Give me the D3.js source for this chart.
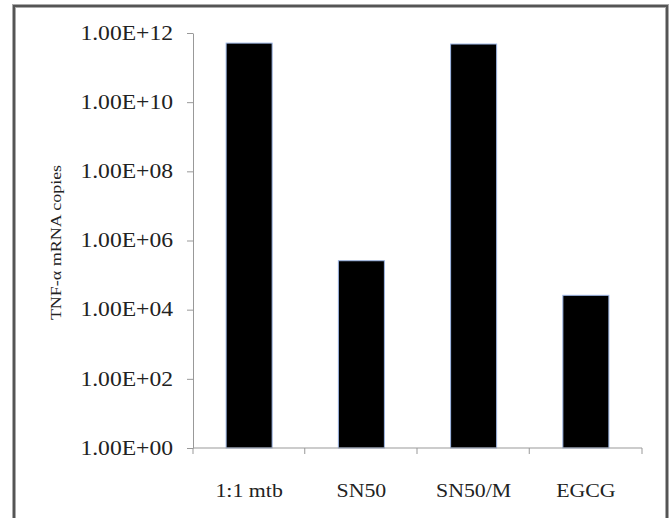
<!DOCTYPE html>
<html>
<head>
<meta charset="utf-8">
<script src="https://cdn.jsdelivr.net/npm/d3@7"></script>
<style>
  html, body { margin: 0; padding: 0; background: #fff; }
  svg { display: block; }
  text { font-family: "Liberation Serif", "Times New Roman", serif; fill: #222; }
</style>
</head>
<body>
<svg id="chart" width="670" height="518"></svg>
<script>
// data
const categories = ["1:1 mtb", "SN50", "SN50/M", "EGCG"];
const copies     = [5.1e11, 2.6e5, 4.8e11, 2.6e4];
const tickValues = [1e0, 1e2, 1e4, 1e6, 1e8, 1e10, 1e12];
const yTitle     = "TNF-\u03b1 mRNA copies";

const svg = d3.select("#chart");

// outer frame (runs off the bottom)
svg.append("rect")
  .attr("x", 14).attr("y", 6).attr("width", 653).attr("height", 540)
  .attr("fill", "none").attr("stroke", "#aaa").attr("stroke-width", 4);
svg.append("rect")
  .attr("x", 14).attr("y", 6).attr("width", 653).attr("height", 540)
  .attr("fill", "none").attr("stroke", "#555").attr("stroke-width", 2);

const plot = { left: 193, right: 642, top: 33, bottom: 448 };

const x = d3.scaleBand()
  .domain(categories)
  .range([plot.left, plot.right])
  .paddingInner(0.59)
  .paddingOuter(0.295);

const y = d3.scaleLog()
  .domain([1, 1e12])
  .range([plot.bottom, plot.top]);

const fmt = v => "1.00E+" + String(Math.round(Math.log10(v))).padStart(2, "0");

// bars
svg.append("g")
  .selectAll("rect")
  .data(categories)
  .join("rect")
  .attr("x", d => x(d))
  .attr("width", x.bandwidth())
  .attr("y", (d, i) => y(copies[i]))
  .attr("height", (d, i) => plot.bottom - y(copies[i]))
  .attr("fill", "#000")
  .attr("stroke", "#9db6e4")
  .attr("stroke-width", 1);

// y axis
const yAxis = svg.append("g")
  .attr("transform", `translate(${plot.left},0)`)
  .call(d3.axisLeft(y).tickValues(tickValues).tickSize(6).tickSizeOuter(0).tickFormat(""));
yAxis.selectAll("path, line").attr("stroke", "#999");

// y tick labels, slightly wide as in the reference
svg.append("g")
  .selectAll("g")
  .data(tickValues)
  .join("g")
  .attr("transform", d => `translate(173,${y(d)}) scale(1.18,1)`)
  .append("text")
  .attr("text-anchor", "end")
  .attr("dy", "0.34em")
  .style("font-size", "20px")
  .text(fmt);

// x axis
const xAxis = svg.append("g")
  .attr("transform", `translate(0,${plot.bottom})`)
  .call(d3.axisBottom(x).tickSize(0).tickFormat(""));
xAxis.select("path").attr("stroke", "#999").attr("d", `M${plot.left},0H${plot.right}`);

// category separators
const seps = categories.map(c => x(c) - x.step() * x.paddingInner() / 2 - 0.5)
  .concat([plot.right]);
seps[0] = plot.left;
xAxis.selectAll(".sep")
  .data(seps)
  .join("line")
  .attr("class", "sep")
  .attr("x1", d => d).attr("x2", d => d)
  .attr("y1", 0).attr("y2", 6)
  .attr("stroke", "#999");

// x labels
svg.append("g")
  .selectAll("g")
  .data(categories)
  .join("g")
  .attr("transform", d => `translate(${x(d) + x.bandwidth() / 2},497) scale(1.15,1)`)
  .append("text")
  .attr("text-anchor", "middle")
  .style("font-size", "19px")
  .text(d => d);

// y title
svg.append("g")
  .attr("transform", `translate(61,${(plot.top + plot.bottom) / 2 + 2}) rotate(-90) scale(1.2,1)`)
  .append("text")
  .attr("text-anchor", "middle")
  .style("font-size", "15px")
  .text(yTitle);
</script>
</body>
</html>
